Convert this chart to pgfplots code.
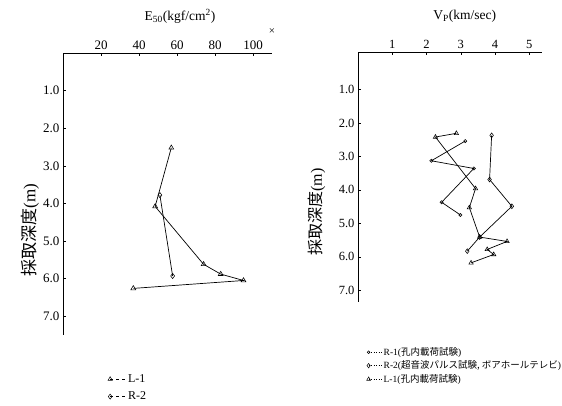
\documentclass[border=0pt]{standalone}
\usepackage{fontspec}
\setmainfont{Liberation Serif}
\newfontfamily\cjk{Noto Sans CJK JP}
\usepackage{pgfplots}
\pgfplotsset{compat=1.18}
\pgfplotsset{
  depthaxis/.style={
    scale only axis, anchor=south west, clip=false,
    y dir=reverse,
    axis x line=top, axis y line=left,
    axis line style={-, line width=0.9pt},
    tick style={line width=0.6pt, black},
    tick align=inside, major tick length=3pt,
    ytick={1,2,3,4,5,6,7},
    yticklabel style={/pgf/number format/.cd, fixed, fixed zerofill, precision=1},
    /pgf/number format/assume math mode=true,
    every axis plot/.append style={black, line width=0.7pt, mark options={solid, fill=white, line width=0.55pt}},
  },
}
\begin{document}
\begin{tikzpicture}
\useasboundingbox (0pt,0pt) rectangle (562pt,-405pt);

% ---------------- left: E50 ----------------
\begin{axis}[depthaxis,
  at={(63pt,-335pt)}, width=209pt, height=282pt,
  xmin=0, xmax=110, ymin=0, ymax=7.5,
  xtick={20,40,60,80,100},
  tick label style={font=\fontsize{13}{15}\selectfont},
  xlabel={E\textsubscript{50}(kgf/cm\textsuperscript{2})},
  xlabel style={at={(axis description cs:0.56,1.131)}, anchor=center, font=\fontsize{13.5}{15}\selectfont},
  ylabel={{\cjk 採取深度}(m)},
  ylabel style={at={(axis description cs:-0.158,0.372)}, anchor=center, font=\fontsize{17}{20}\selectfont},
  legend style={at={(axis description cs:0.2,-0.125)}, anchor=north west, draw=none, fill=none,
    font=\fontsize{12}{14}\selectfont, row sep=4pt},
  legend cell align=left,
  legend image code/.code={\draw[mark repeat=2,mark phase=1,#1] plot coordinates {(0cm,0cm) (0.55cm,0cm)};},
]
\addplot[mark=triangle, mark size=2.8pt, forget plot] coordinates {
 (57,2.52) (48.5,4.08) (74,5.62) (83,5.88) (95,6.05) (37,6.26)};
\addplot[mark=diamond, mark size=2.6pt, forget plot] coordinates {
 (51,3.78) (57.7,5.93)};
\addlegendimage{black, line width=0.5pt, dashed, mark=triangle, mark size=2.5pt, mark options={solid}}
\addlegendentry{L-1}
\addlegendimage{black, line width=0.5pt, dashed, mark=diamond, mark size=2.5pt, mark options={solid}}
\addlegendentry{R-2}
\node[font=\fontsize{11}{12}\selectfont] at (axis description cs:1.0,1.075) {×};
\end{axis}

% ---------------- right: Vp ----------------
\begin{axis}[depthaxis,
  at={(358pt,-302pt)}, width=184pt, height=250pt,
  xmin=0, xmax=5.37, ymin=-0.12, ymax=7.35,
  xtick={1,2,3,4,5},
  tick label style={font=\fontsize{12.5}{14}\selectfont},
  xlabel={V\textsubscript{P}(km/sec)},
  xlabel style={at={(axis description cs:0.58,1.144)}, anchor=center, font=\fontsize{13.5}{15}\selectfont},
  ylabel={{\cjk 採取深度}(m)},
  ylabel style={at={(axis description cs:-0.223,0.36)}, anchor=center, font=\fontsize{16}{19}\selectfont},
  legend style={at={(axis description cs:0.03,-0.165)}, anchor=north west, draw=none, fill=none,
    font=\fontsize{9.5}{11}\selectfont, row sep=0pt},
  legend cell align=left,
  legend image code/.code={\draw[mark repeat=2,mark phase=1,#1] plot coordinates {(0cm,0cm) (0.45cm,0cm)};},
]
\addplot[mark=triangle, mark size=2.5pt, forget plot] coordinates {
 (2.87,2.31) (2.26,2.42) (3.43,3.96) (3.25,4.53) (3.55,5.41) (4.35,5.54) (3.77,5.78) (3.96,5.93) (3.30,6.18)};
\addplot[mark=o, mark size=1.6pt, forget plot] coordinates {
 (3.13,2.54) (2.14,3.13) (3.38,3.36) (2.44,4.37) (2.99,4.75)};
\addplot[mark=diamond, mark size=2.4pt, forget plot] coordinates {
 (3.90,2.37) (3.84,3.69) (4.49,4.49) (3.55,5.41) (3.19,5.83)};
\addlegendimage{black, line width=0.5pt, dotted, mark=o, mark size=1.4pt, mark options={solid}}
\addlegendentry{R-1({\cjk 孔内載荷試験})}
\addlegendimage{black, line width=0.5pt, dotted, mark=diamond, mark size=2.2pt, mark options={solid}}
\addlegendentry{R-2({\cjk 超音波パルス試験, ボアホールテレビ})}
\addlegendimage{black, line width=0.5pt, dotted, mark=triangle, mark size=2.2pt, mark options={solid}}
\addlegendentry{L-1({\cjk 孔内載荷試験})}
\end{axis}
\end{tikzpicture}
\end{document}
